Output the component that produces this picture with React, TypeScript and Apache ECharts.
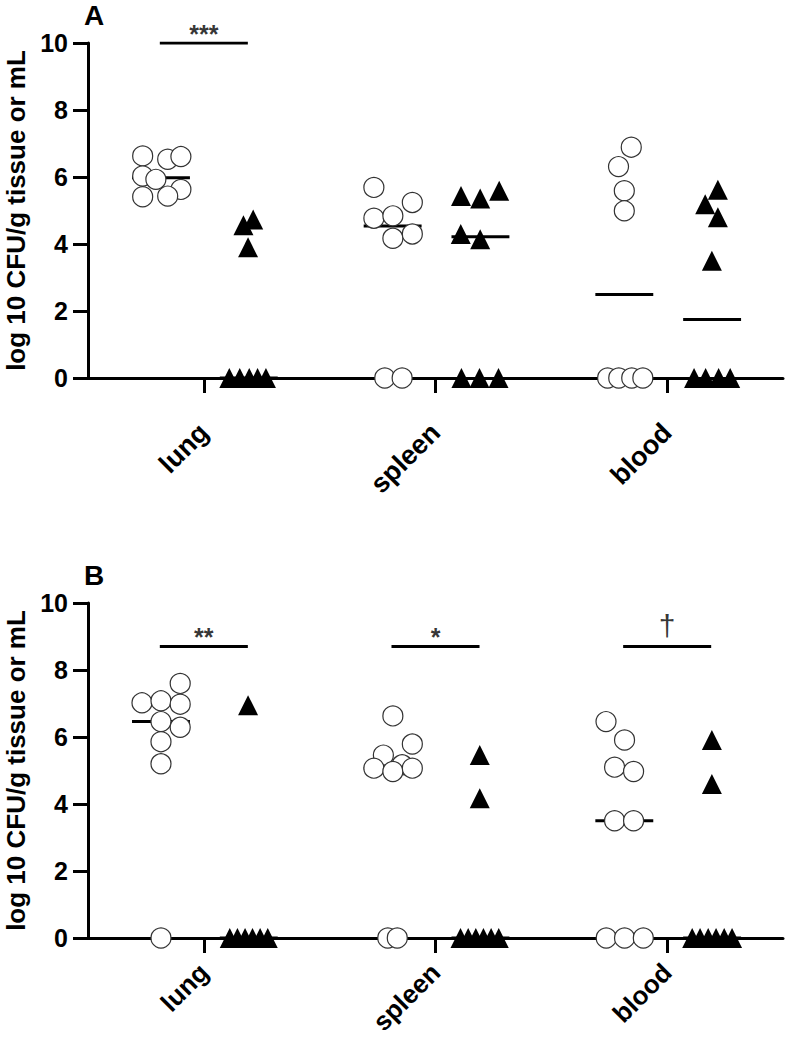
import React, { useEffect, useRef } from "react";
import * as echarts from "echarts";

// ---------- DATA ----------
const categories = ["lung", "spleen", "blood"];
const yMin = 0;
const yMax = 10;
const yInterval = 2;
const yAxisTitle = "log 10 CFU/g tissue or mL";
const panelLetters = ["A", "B"];

// Panel A — open circles (values, log10 CFU)
const aLungCircles = [6.63, 6.53, 6.61, 6.03, 5.93, 5.63, 5.41, 5.43];
const aSpleenCircles = [5.69, 5.24, 4.77, 4.84, 4.17, 4.3, 0, 0];
const aBloodCircles = [6.89, 6.31, 5.59, 4.99, 0, 0, 0, 0];
// Panel A — filled triangles
const aLungTriangles = [4.56, 4.73, 3.9, 0, 0, 0, 0, 0];
const aSpleenTriangles = [5.43, 5.36, 5.59, 4.3, 4.14, 0, 0, 0];
const aBloodTriangles = [5.62, 5.19, 4.8, 3.5, 0, 0, 0, 0];

// Panel B — open circles
const bLungCircles = [7.6, 7.02, 7.08, 6.98, 6.46, 6.29, 5.86, 5.2, 0];
const bSpleenCircles = [6.63, 5.79, 5.46, 5.17, 5.07, 4.97, 5.07, 0, 0];
const bBloodCircles = [6.46, 5.91, 5.1, 4.97, 3.5, 3.5, 0, 0, 0];
// Panel B — filled triangles
const bLungTriangles = [6.95, 0, 0, 0, 0, 0, 0];
const bSpleenTriangles = [5.46, 4.17, 0, 0, 0, 0, 0, 0];
const bBloodTriangles = [5.91, 4.6, 0, 0, 0, 0, 0, 0];

// Horizontal scatter (jitter) of each point, in category widths from the category centre
const aLungCirclesJit = [-0.264, -0.156, -0.099, -0.264, -0.207, -0.099, -0.264, -0.156];
const aSpleenCirclesJit = [-0.266, -0.1, -0.266, -0.184, -0.184, -0.1, -0.219, -0.144];
const aBloodCirclesJit = [-0.155, -0.21, -0.185, -0.185, -0.257, -0.209, -0.153, -0.105];
const aLungTrianglesJit = [0.171, 0.213, 0.191, 0.11, 0.155, 0.196, 0.232, 0.268];
const aSpleenTrianglesJit = [0.11, 0.193, 0.275, 0.109, 0.193, 0.112, 0.19, 0.272];
const aBloodTrianglesJit = [0.219, 0.164, 0.219, 0.193, 0.116, 0.166, 0.222, 0.272];

const bLungCirclesJit = [-0.102, -0.267, -0.185, -0.102, -0.185, -0.102, -0.185, -0.185, -0.185];
const bSpleenCirclesJit = [-0.184, -0.1, -0.225, -0.144, -0.266, -0.184, -0.1, -0.206, -0.165];
const bBloodCirclesJit = [-0.264, -0.184, -0.227, -0.145, -0.227, -0.145, -0.263, -0.184, -0.103];
const bLungTrianglesJit = [0.191, 0.112, 0.145, 0.178, 0.21, 0.243, 0.276];
const bSpleenTrianglesJit = [0.191, 0.191, 0.108, 0.141, 0.174, 0.207, 0.24, 0.273];
const bBloodTrianglesJit = [0.193, 0.193, 0.108, 0.142, 0.177, 0.211, 0.246, 0.28];

// Significance annotations (label per category, "" = none) and bar heights
const aSigLabels = ["***", "", ""];
const bSigLabels = ["**", "*", "†"];
const aSigLevel = 10;
const bSigLevel = 8.7;

// ---------- HELPERS ----------
const median = (arr: number[]) => {
  const s = [...arr].sort((p, q) => p - q);
  const n = s.length;
  return n % 2 ? s[(n - 1) / 2] : (s[n / 2 - 1] + s[n / 2]) / 2;
};

const FONT = "Liberation Sans";

type Panel = {
  circles: number[][];
  circlesJit: number[][];
  triangles: number[][];
  trianglesJit: number[][];
  sigLabels: string[];
  sigLevel: number;
};

const panels: Panel[] = [
  {
    circles: [aLungCircles, aSpleenCircles, aBloodCircles],
    circlesJit: [aLungCirclesJit, aSpleenCirclesJit, aBloodCirclesJit],
    triangles: [aLungTriangles, aSpleenTriangles, aBloodTriangles],
    trianglesJit: [aLungTrianglesJit, aSpleenTrianglesJit, aBloodTrianglesJit],
    sigLabels: aSigLabels,
    sigLevel: aSigLevel,
  },
  {
    circles: [bLungCircles, bSpleenCircles, bBloodCircles],
    circlesJit: [bLungCirclesJit, bSpleenCirclesJit, bBloodCirclesJit],
    triangles: [bLungTriangles, bSpleenTriangles, bBloodTriangles],
    trianglesJit: [bLungTrianglesJit, bSpleenTrianglesJit, bBloodTrianglesJit],
    sigLabels: bSigLabels,
    sigLevel: bSigLevel,
  },
];

// layout (pixels / category-width fractions)
const gridTops = [43, 603];
const gridHeight = 335;
const gridLeft = 88;
const gridRight = 4;
const catLabelMargins = [50, 30];
const catLabelSizes = [27, 26];
const circleMedianSpan = [-0.31, -0.06];
const triangleMedianSpan = [0.069, 0.319];
const sigSpan = [-0.19, 0.19];

export default function App() {
  const ref = useRef<HTMLDivElement>(null);

  useEffect(() => {
    if (!ref.current) return;
    const chart = echarts.init(ref.current, undefined, { renderer: "svg" });

    const grid: any[] = [];
    const xAxis: any[] = [];
    const yAxis: any[] = [];
    const series: any[] = [];

    panels.forEach((p, pi) => {
      grid.push({
        left: gridLeft,
        right: gridRight,
        top: gridTops[pi],
        height: gridHeight,
        containLabel: false,
        outerBoundsMode: "none",
      });
      // visible category axis
      xAxis.push({
        type: "category",
        gridIndex: pi,
        data: categories,
        boundaryGap: true,
        axisLine: { show: true, onZero: false, lineStyle: { color: "#000", width: 3 } },
        axisTick: { show: true, alignWithLabel: true, length: 15, lineStyle: { color: "#000", width: 3 } },
        axisLabel: {
          rotate: 45,
          margin: catLabelMargins[pi],
          color: "#000",
          fontFamily: FONT,
          fontWeight: "bold",
          fontSize: catLabelSizes[pi],
        },
        splitLine: { show: false },
      });
      // hidden value axis for jittered placement
      xAxis.push({
        type: "value",
        gridIndex: pi,
        min: -0.5,
        max: 2.5,
        show: false,
        splitLine: { show: false },
      });
      yAxis.push({
        type: "value",
        gridIndex: pi,
        min: yMin,
        max: yMax,
        interval: yInterval,
        name: yAxisTitle,
        nameLocation: "middle",
        nameRotate: 90,
        nameGap: 59,
        nameTextStyle: { color: "#000", fontFamily: FONT, fontWeight: "bold", fontSize: 26 },
        axisLine: { show: true, onZero: false, lineStyle: { color: "#000", width: 3 } },
        axisTick: { show: true, length: 15, lineStyle: { color: "#000", width: 3 } },
        axisLabel: { color: "#000", fontFamily: FONT, fontWeight: "bold", fontSize: 25, margin: 20 },
        splitLine: { show: false },
      });

      const xIdx = pi * 2 + 1;

      categories.forEach((_, ci) => {
        // median lines
        const mc = median(p.circles[ci]);
        const mt = median(p.triangles[ci]);
        [
          [circleMedianSpan, mc],
          [triangleMedianSpan, mt],
        ].forEach(([span, m]: any) => {
          series.push({
            type: "line",
            xAxisIndex: xIdx,
            yAxisIndex: pi,
            data: [
              [ci + span[0], m],
              [ci + span[1], m],
            ],
            symbol: "none",
            lineStyle: { color: "#000", width: 3 },
            z: 3,
            silent: true,
          });
        });
        // significance bar + label
        const sig = p.sigLabels[ci];
        if (sig) {
          const isDagger = sig === "†";
          series.push({
            type: "line",
            xAxisIndex: xIdx,
            yAxisIndex: pi,
            data: [
              [ci + sigSpan[0], p.sigLevel],
              [ci + sigSpan[1], p.sigLevel],
            ],
            symbol: "none",
            lineStyle: { color: "#000", width: 3 },
            z: 3,
            silent: true,
          });
          series.push({
            type: "scatter",
            xAxisIndex: xIdx,
            yAxisIndex: pi,
            clip: false,
            data: [[ci, p.sigLevel]],
            symbolSize: 0,
            itemStyle: { color: "transparent" },
            label: {
              show: true,
              position: "top",
              distance: isDagger ? 6 : -3,
              formatter: sig,
              color: "#000",
              fontFamily: FONT,
              fontWeight: isDagger ? "normal" : "bold",
              fontSize: isDagger ? 30 : 25,
            },
            z: 6,
            silent: true,
          });
        }
      });

      // circles
      series.push({
        type: "scatter",
        xAxisIndex: xIdx,
        yAxisIndex: pi,
        clip: false,
        symbol: "circle",
        symbolSize: 20,
        itemStyle: { color: "#fff", borderColor: "#333", borderWidth: 1.2, opacity: 1 },
        data: p.circles.flatMap((vals, ci) => vals.map((v, k) => [ci + p.circlesJit[ci][k], v])),
        z: 5,
      });
      // triangles
      series.push({
        type: "scatter",
        xAxisIndex: xIdx,
        yAxisIndex: pi,
        clip: false,
        symbol: "triangle",
        symbolSize: 20,
        itemStyle: { color: "#000", opacity: 1 },
        data: p.triangles.flatMap((vals, ci) => vals.map((v, k) => [ci + p.trianglesJit[ci][k], v])),
        z: 5,
      });
    });

    chart.setOption({
      animation: false,
      backgroundColor: "#fff",
      grid,
      xAxis,
      yAxis,
      series,
      graphic: panelLetters.map((t, i) => ({
        type: "text",
        left: 84,
        top: gridTops[i] - 42,
        style: { text: t, fill: "#000", font: `bold 28px "${FONT}"` },
      })),
    });

    return () => chart.dispose();
  }, []);

  return (
    <div
      ref={ref}
      style={{ position: "fixed", left: 0, top: 0, width: 787, height: 1040, background: "#fff" }}
    />
  );
}
